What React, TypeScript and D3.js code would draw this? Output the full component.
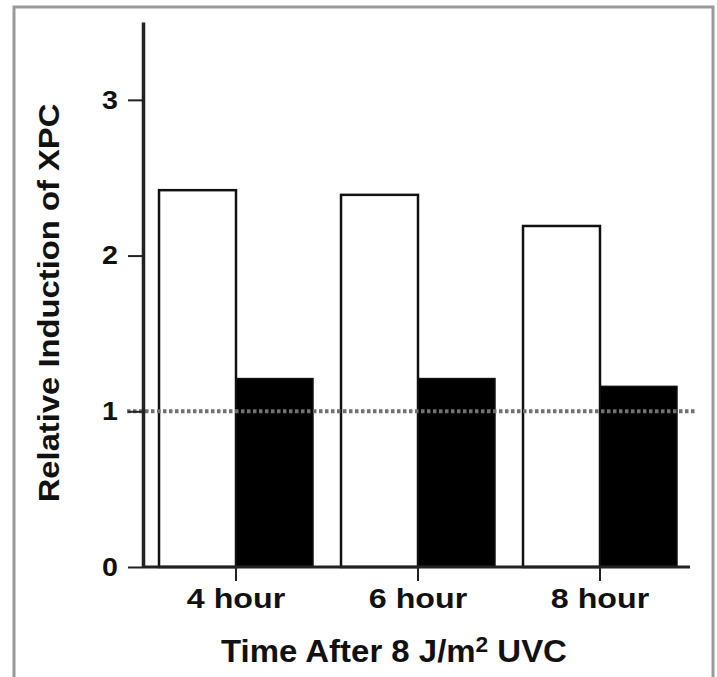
import React, { useEffect, useRef } from "react";
import * as d3 from "d3";

const categories = ["4 hour", "6 hour", "8 hour"];
const uvValues = [2.42, 2.39, 2.19];
const controlValues = [1.21, 1.21, 1.16];
const yTicks = [0, 1, 2, 3];
const baseline = 1;

const W = 717;
const H = 677;

export default function App() {
  const ref = useRef<SVGSVGElement | null>(null);

  useEffect(() => {
    const svg = d3.select(ref.current);
    svg.selectAll("*").remove();

    const font = "'Liberation Sans', Arial, Helvetica, sans-serif";

    // outer gray frame (bottom edge runs off the image)
    svg
      .append("rect")
      .attr("x", 14)
      .attr("y", 7)
      .attr("width", 699)
      .attr("height", 700)
      .attr("fill", "white")
      .attr("stroke", "#9a9a9a")
      .attr("stroke-width", 3);

    const y = d3.scaleLinear().domain([0, 3.5]).range([567, 22]);
    const x = d3
      .scaleBand()
      .domain(categories)
      .range([143, 693])
      .paddingInner(0.154)
      .paddingOuter(0.088);
    const sub = d3
      .scaleBand()
      .domain(["uv", "ctrl"])
      .range([0, x.bandwidth()]);

    const rows = categories.map((c, i) => ({
      cat: c,
      uv: uvValues[i],
      ctrl: controlValues[i],
    }));

    const g = svg.append("g");

    // bars
    const groups = g
      .selectAll("g.grp")
      .data(rows)
      .enter()
      .append("g")
      .attr("transform", (d) => `translate(${x(d.cat)},0)`);

    groups
      .append("rect")
      .attr("x", sub("uv")!)
      .attr("y", (d) => y(d.uv))
      .attr("width", sub.bandwidth())
      .attr("height", (d) => y(0) - y(d.uv))
      .attr("fill", "white")
      .attr("stroke", "#111")
      .attr("stroke-width", 2.5);

    groups
      .append("rect")
      .attr("x", sub("ctrl")!)
      .attr("y", (d) => y(d.ctrl))
      .attr("width", sub.bandwidth())
      .attr("height", (d) => y(0) - y(d.ctrl))
      .attr("fill", "#000")
      .attr("stroke", "#111")
      .attr("stroke-width", 1.5);

    // dotted reference line at 1
    g.append("line")
      .attr("x1", 127)
      .attr("x2", 695)
      .attr("y1", y(baseline))
      .attr("y2", y(baseline))
      .attr("stroke", "#707070")
      .attr("stroke-width", 4)
      .attr("stroke-dasharray", "3.5,2.5");

    // y axis
    const yAxis = g
      .append("g")
      .attr("transform", "translate(143,0)")
      .call(
        d3
          .axisLeft(y)
          .tickValues(yTicks)
          .tickFormat(d3.format("d"))
          .tickSize(15)
          .tickSizeOuter(0)
      );
    yAxis.select(".domain").attr("stroke", "#222").attr("stroke-width", 3.5);
    yAxis.selectAll(".tick line").attr("stroke", "#222").attr("stroke-width", 2);
    yAxis
      .selectAll(".tick text")
      .attr("x", 0)
      .attr("transform", "translate(-25,0) scale(1.1,1)")
      .attr("font-family", font)
      .attr("font-weight", "bold")
      .attr("font-size", 26)
      .attr("fill", "#111");

    // x axis
    const xAxis = g
      .append("g")
      .attr("transform", `translate(0,${y(0)})`)
      .call(d3.axisBottom(x).tickSize(14).tickSizeOuter(0));
    xAxis
      .select(".domain")
      .attr("d", "M143,0H690")
      .attr("stroke", "#222")
      .attr("stroke-width", 3);
    xAxis.selectAll(".tick line").attr("stroke", "#222").attr("stroke-width", 2);
    xAxis
      .selectAll(".tick text")
      .attr("y", 0)
      .attr("dy", 0)
      .attr("transform", "translate(0,41) scale(1.15,1)")
      .attr("font-family", font)
      .attr("font-weight", "bold")
      .attr("font-size", 28)
      .attr("fill", "#111");

    // x title
    const xt = svg
      .append("text")
      .attr("transform", "translate(394,662) scale(1.03,1)")
      .attr("text-anchor", "middle")
      .attr("font-family", font)
      .attr("font-weight", "bold")
      .attr("font-size", 32)
      .attr("fill", "#111");
    xt.append("tspan").text("Time After 8 J/m");
    xt.append("tspan").attr("dy", -10).attr("font-size", 22).text("2");
    xt.append("tspan").attr("dy", 10).text(" UVC");

    // y title
    svg
      .append("text")
      .attr("transform", "translate(59,303) rotate(-90) scale(1.13,1)")
      .attr("text-anchor", "middle")
      .attr("font-family", font)
      .attr("font-weight", "bold")
      .attr("font-size", 29)
      .attr("fill", "#111")
      .text("Relative Induction of XPC");
  }, []);

  return (
    <svg
      ref={ref}
      width={W}
      height={H}
      style={{ position: "absolute", left: 0, top: 0, background: "white" }}
    />
  );
}
